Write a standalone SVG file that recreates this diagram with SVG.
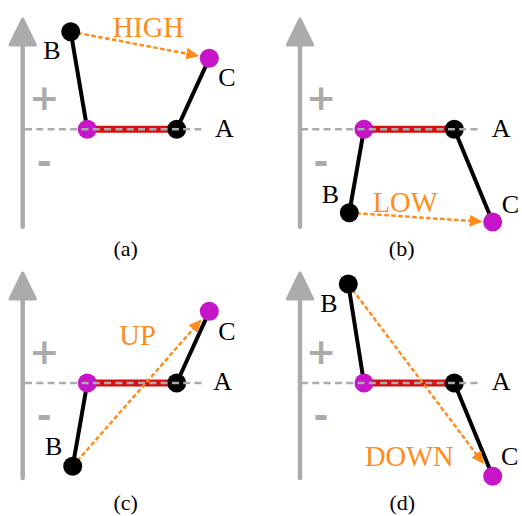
<svg xmlns="http://www.w3.org/2000/svg" width="522" height="516" viewBox="0 0 522 516">
<style>
.ax{stroke:#ababab;stroke-width:4.5;stroke-linecap:round;fill:none}
.axh{fill:#ababab;stroke:#ababab;stroke-width:3;stroke-linejoin:round}
.pm{font-family:"DejaVu Sans",sans-serif;font-weight:bold;font-size:36px;fill:#ababab;text-anchor:middle}
.lnk{stroke:#000;stroke-width:4;stroke-linecap:round}
.red{stroke:#d41010;stroke-width:7}
.gd{stroke:#ababab;stroke-width:2.5;stroke-dasharray:7 4.3;fill:none}
.or{stroke:#ff8c1a;stroke-width:2.5;stroke-dasharray:4.5 2.5;fill:none}
.pu{fill:#c614c8}
.bk{fill:#000}
.lb{font-family:"Liberation Serif",serif;font-size:26px;fill:#000}
.ol{font-family:"Liberation Serif",serif;font-size:28.5px;fill:#ff8c1a}
.cap{font-family:"Liberation Serif",serif;font-size:22px;fill:#000;text-anchor:middle}
</style>
<defs>
<marker id="oa" markerUnits="userSpaceOnUse" markerWidth="14" markerHeight="14" refX="5" refY="6" orient="auto">
<path d="M0,0 L13,6 L0,12 z" fill="#ff8c1a"/>
</marker>
</defs>

<!-- Panel (a) -->
<g id="panel-a">
<g id="axis-a"><line class="ax" x1="22.7" y1="226.7" x2="22.7" y2="44"/><polygon class="axh" points="22.7,19 10,45 35.4,45"/>
<text class="pm" x="44.3" y="110.3">+</text><text class="pm" x="44.3" y="173.7">-</text></g>
<g id="connectors-a">
<line class="lnk" x1="70.7" y1="31.7" x2="87.3" y2="129.3"/>
<line class="lnk" x1="176.7" y1="129.3" x2="209.3" y2="58.3"/>
<line class="red" x1="87.3" y1="129.3" x2="176.7" y2="129.3"/>
<line class="or" x1="70.7" y1="31.7" x2="191.4" y2="54.5" marker-end="url(#oa)"/>
</g>
<g id="a-B"><circle class="bk" cx="70.7" cy="31.7" r="9.5"/><text class="lb" x="43.3" y="59.3">B</text></g>
<g id="a-C"><circle class="pu" cx="209.3" cy="58.3" r="9.5"/><text class="lb" x="218.3" y="86">C</text></g>
<g id="a-A1"><circle class="pu" cx="87.3" cy="129.3" r="9.5"/></g>
<g id="a-A2"><circle class="bk" cx="176.7" cy="129.3" r="9.5"/><text class="lb" x="215" y="137.3">A</text></g>
<line class="gd" x1="25" y1="129.3" x2="201.7" y2="129.3"/>
<text class="ol" x="112.7" y="36.7">HIGH</text>
<text class="cap" x="125.7" y="256">(a)</text>
</g>

<!-- Panel (b) -->
<g id="panel-b">
<g id="axis-b"><line class="ax" x1="300" y1="226.7" x2="300" y2="44"/><polygon class="axh" points="300,19 287.3,45 312.7,45"/>
<text class="pm" x="321" y="110.3">+</text><text class="pm" x="321" y="173.7">-</text></g>
<g id="connectors-b">
<line class="lnk" x1="349.3" y1="212.7" x2="364" y2="129.3"/>
<line class="lnk" x1="454.3" y1="129.3" x2="492.7" y2="222"/>
<line class="red" x1="364" y1="129.3" x2="454.3" y2="129.3"/>
<line class="or" x1="349.3" y1="212.7" x2="474.7" y2="221.2" marker-end="url(#oa)"/>
</g>
<g id="b-B"><circle class="bk" cx="349.3" cy="212.7" r="9.5"/><text class="lb" x="321.7" y="202.7">B</text></g>
<g id="b-C"><circle class="pu" cx="492.7" cy="222" r="9.5"/><text class="lb" x="501.7" y="213">C</text></g>
<g id="b-A1"><circle class="pu" cx="364" cy="129.3" r="9.5"/></g>
<g id="b-A2"><circle class="bk" cx="454.3" cy="129.3" r="9.5"/><text class="lb" x="491.7" y="136.7">A</text></g>
<line class="gd" x1="301" y1="129.3" x2="479.3" y2="129.3"/>
<text class="ol" x="372.7" y="211.7">LOW</text>
<text class="cap" x="401.7" y="256">(b)</text>
</g>

<!-- Panel (c) -->
<g id="panel-c">
<g id="axis-c"><line class="ax" x1="22.7" y1="478" x2="22.7" y2="298"/><polygon class="axh" points="22.7,273 10,299 35.4,299"/>
<text class="pm" x="44.3" y="364.3">+</text><text class="pm" x="44.3" y="427.7">-</text></g>
<g id="connectors-c">
<line class="lnk" x1="72.7" y1="466.3" x2="87.3" y2="383"/>
<line class="lnk" x1="176.7" y1="383" x2="209.3" y2="311.3"/>
<line class="red" x1="87.3" y1="383" x2="176.7" y2="383"/>
<line class="or" x1="72.7" y1="466.3" x2="196.4" y2="325.3" marker-end="url(#oa)"/>
</g>
<g id="c-B"><circle class="bk" cx="72.7" cy="466.3" r="9.5"/><text class="lb" x="45" y="455.3">B</text></g>
<g id="c-C"><circle class="pu" cx="209.3" cy="311.3" r="9.5"/><text class="lb" x="218.3" y="339.7">C</text></g>
<g id="c-A1"><circle class="pu" cx="87.3" cy="383" r="9.5"/></g>
<g id="c-A2"><circle class="bk" cx="176.7" cy="383" r="9.5"/><text class="lb" x="213.3" y="389.7">A</text></g>
<line class="gd" x1="25" y1="383" x2="201.7" y2="383"/>
<text class="ol" x="119.3" y="345">UP</text>
<text class="cap" x="125.7" y="510">(c)</text>
</g>

<!-- Panel (d) -->
<g id="panel-d">
<g id="axis-d"><line class="ax" x1="300" y1="478" x2="300" y2="298"/><polygon class="axh" points="300,273 287.3,299 312.7,299"/>
<text class="pm" x="321" y="364.3">+</text><text class="pm" x="321" y="427.7">-</text></g>
<g id="connectors-d">
<line class="lnk" x1="348.3" y1="284" x2="364" y2="383"/>
<line class="lnk" x1="454.3" y1="383" x2="492.7" y2="476.3"/>
<line class="red" x1="364" y1="383" x2="454.3" y2="383"/>
<line class="or" x1="348.3" y1="284" x2="479.2" y2="457.9" marker-end="url(#oa)"/>
</g>
<g id="d-B"><circle class="bk" cx="348.3" cy="284" r="9.5"/><text class="lb" x="320.3" y="312">B</text></g>
<g id="d-C"><circle class="pu" cx="492.7" cy="476.3" r="9.5"/><text class="lb" x="501" y="464.7">C</text></g>
<g id="d-A1"><circle class="pu" cx="364" cy="383" r="9.5"/></g>
<g id="d-A2"><circle class="bk" cx="454.3" cy="383" r="9.5"/><text class="lb" x="491.7" y="389.7">A</text></g>
<line class="gd" x1="301" y1="383" x2="479.3" y2="383"/>
<text class="ol" x="365" y="465.7">DOWN</text>
<text class="cap" x="402.3" y="510">(d)</text>
</g>
</svg>
